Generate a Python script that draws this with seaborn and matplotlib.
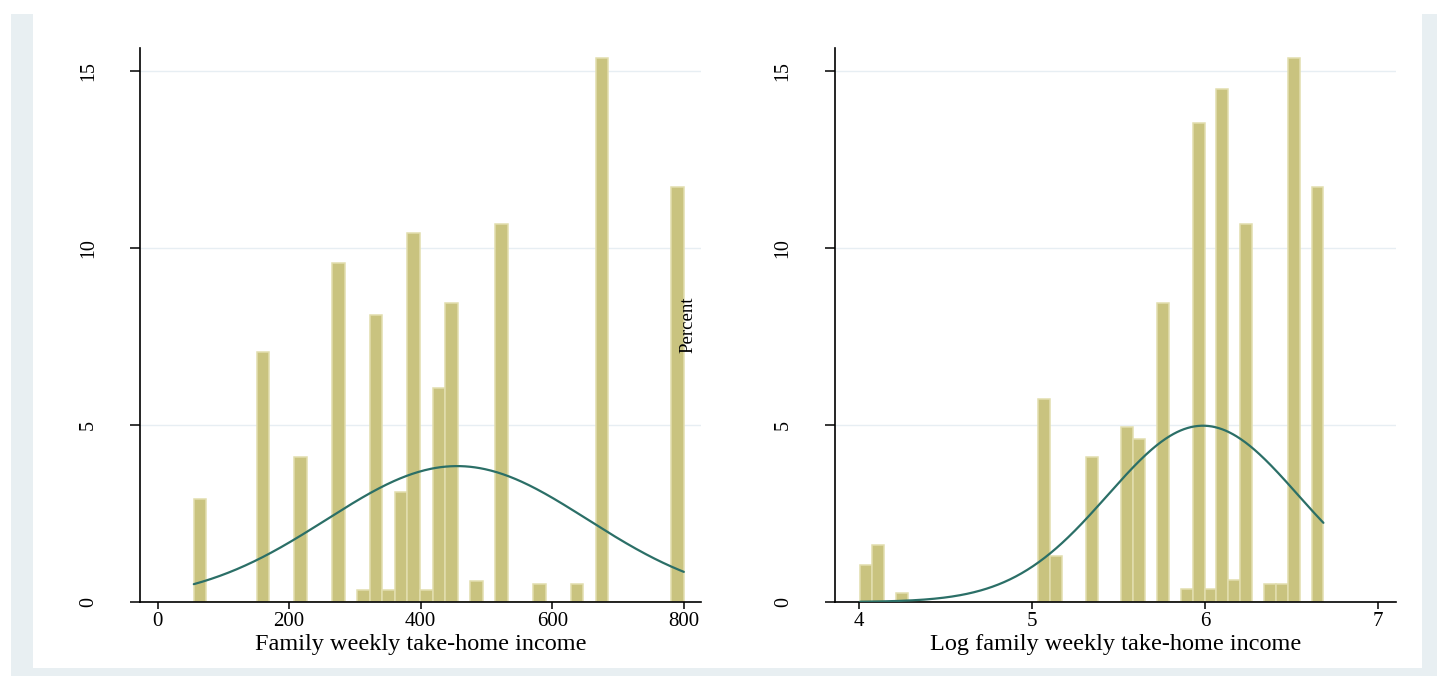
import numpy as np
import pandas as pd
import matplotlib
matplotlib.use("Agg")
import matplotlib.pyplot as plt
from matplotlib.patches import Rectangle
import seaborn as sns

# Family weekly take-home income: 39 equal-width bins between sample min and max
income_range = (55.0, 800.0)
log_income_range = (4.007, 6.685)
n_bins = 39

# occupied bins (bin index) and percent of families falling in each
income_bin_idx = [0, 5, 8, 11, 13, 14, 15, 16, 17, 18, 19, 20, 22, 24, 27, 30, 32, 38]
income_pct = [2.91, 7.05, 4.10, 9.56, 0.34, 8.11, 0.34, 3.10, 10.41, 0.34,
              6.04, 8.43, 0.60, 10.67, 0.50, 0.50, 15.36, 11.72]

log_income_bin_idx = [0, 1, 3, 15, 16, 19, 22, 23, 25, 27, 28, 29, 30, 31, 32,
                      34, 35, 36, 38]
log_income_pct = [1.04, 1.62, 0.25, 5.73, 1.31, 4.09, 4.93, 4.60, 8.43, 0.36,
                  13.51, 0.36, 14.47, 0.62, 10.66, 0.51, 0.51, 15.35, 11.71]

income_ticks = [0, 200, 400, 600, 800]
log_income_ticks = [4, 5, 6, 7]
pct_ticks = [0, 5, 10, 15]

income_label = "Family weekly take-home income"
log_income_label = "Log family weekly take-home income"
y_label = "Percent"

BAR = "#c9c37f"
BAR_EDGE = "#e2deae"
CURVE = "#2b6f67"
GRID = "#e7eef3"
OUTER = "#e8eff2"

sns.set_style("white")
plt.rcParams["font.family"] = ["Liberation Serif", "DejaVu Serif"]

W, H = 1437, 676
fig = plt.figure(figsize=(W / 100, H / 100), dpi=100, facecolor="white")

# graph region: tinted frame around a white plot area
fig.patches.append(Rectangle((11 / W, 0), 1 - 11 / W, 1 - 14 / H,
                             transform=fig.transFigure, facecolor=OUTER,
                             edgecolor="none", zorder=-10))
fig.patches.append(Rectangle((33 / W, 8 / H), (1422 - 33) / W, (668 - 8) / H,
                             transform=fig.transFigure, facecolor="white",
                             edgecolor="none", zorder=-9))

ax_h = (602 - 47.7) / H
ax_b = (H - 602) / H
ax_w = 561.0 / W
ax_left = fig.add_axes([140 / W, ax_b, ax_w, ax_h])
ax_right = fig.add_axes([834.7 / W, ax_b, ax_w, ax_h])


def draw_panel(ax, rng, idx, pct, xticks, xlim, xlabel):
    edges = np.linspace(rng[0], rng[1], n_bins + 1)
    centers = 0.5 * (edges[:-1] + edges[1:])
    width = edges[1] - edges[0]
    df = pd.DataFrame({"x": centers[idx], "pct": pct})

    sns.histplot(data=df, x="x", weights="pct", bins=n_bins, binrange=rng,
                 stat="count", color=BAR, edgecolor=BAR_EDGE, linewidth=1.1,
                 alpha=1.0, ax=ax, zorder=2)

    # normal density with the sample mean and s.d., scaled to percent per bin
    mu = np.average(df["x"], weights=df["pct"])
    sd = np.sqrt(np.average((df["x"] - mu) ** 2, weights=df["pct"]))
    grid = np.linspace(rng[0], rng[1], 400)
    dens = 100 * width * np.exp(-0.5 * ((grid - mu) / sd) ** 2) / (sd * np.sqrt(2 * np.pi))
    sns.lineplot(x=grid, y=dens, color=CURVE, linewidth=1.6, ax=ax, zorder=3)

    ax.set_xlim(*xlim)
    ax.set_ylim(0, 15.65)
    ax.set_xticks(xticks)
    ax.set_xticklabels([str(t) for t in xticks])
    ax.set_yticks(pct_ticks)
    ax.set_yticklabels([str(t) for t in pct_ticks])

    ax.set_axisbelow(True)
    ax.yaxis.grid(True, color=GRID, linewidth=1.0)
    ax.xaxis.grid(False)
    for s in ("top", "right"):
        ax.spines[s].set_visible(False)
    for s in ("left", "bottom"):
        ax.spines[s].set_color("black")
        ax.spines[s].set_linewidth(1.2)

    ax.tick_params(axis="y", direction="out", length=7.2, width=1.1,
                   pad=23, labelsize=14.4, colors="black", left=True)
    ax.tick_params(axis="x", direction="out", length=4.7, width=1.1,
                   pad=2.5, labelsize=15, colors="black", bottom=True)
    for lab in ax.get_yticklabels():
        lab.set_rotation(90)
        lab.set_va("center")

    ax.set_xlabel(xlabel, fontsize=17.5, color="black")
    ax.xaxis.set_label_coords(0.5, -0.057)
    ax.set_ylabel(y_label, fontsize=13.5, color="black")
    ax.yaxis.set_label_coords(-0.246, 0.5)
    ax.patch.set_alpha(0)


draw_panel(ax_left, income_range, income_bin_idx, income_pct,
           income_ticks, (-26.8, 826.1), income_label)
draw_panel(ax_right, log_income_range, log_income_bin_idx, log_income_pct,
           log_income_ticks, (3.86, 7.103), log_income_label)

fig.savefig("out.png", dpi=100, facecolor=fig.get_facecolor())
